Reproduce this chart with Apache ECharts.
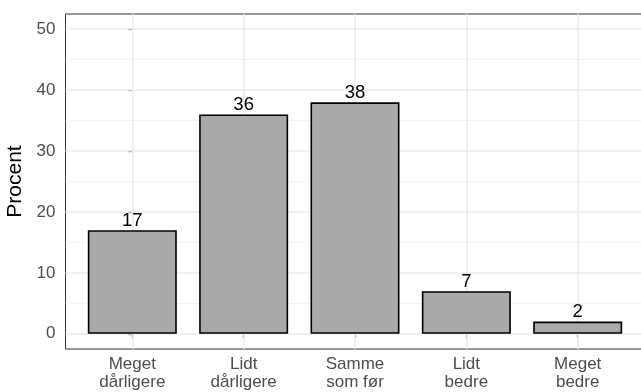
<!DOCTYPE html>
<html>
<head>
<meta charset="utf-8">
<script src="https://cdn.jsdelivr.net/npm/echarts@6/dist/echarts.min.js"></script>
<style>
  html, body { margin: 0; padding: 0; background: #fff; }
  #chart { width: 641px; height: 392px; }
</style>
</head>
<body>
<div id="chart"></div>
<script>
// data
const categories = ['Meget\ndårligere', 'Lidt\ndårligere', 'Samme\nsom før', 'Lidt\nbedre', 'Meget\nbedre']
const values = [17, 36, 38, 7, 2]
const yTicks = [0, 10, 20, 30, 40, 50]
const yMinor = [5, 15, 25, 35, 45]
const xTicks = categories.map((c, i) => i)

const font = 'Liberation Sans, Arial, sans-serif'

// gridlines drawn as marklines so they follow the ggplot panel (which is wider than the tick range)
const gridLines = []
  .concat(yMinor.map(v => ({ yAxis: v, lineStyle: { type: 'solid', color: '#f2f2f2', width: 1 } })))
  .concat(yTicks.map(v => ({ yAxis: v, lineStyle: { type: 'solid', color: '#ebebeb', width: 1.6 } })))
  .concat(xTicks.map(v => ({ xAxis: v, lineStyle: { type: 'solid', color: '#ebebeb', width: 1.6 } })))

const myChart = echarts.init(document.getElementById('chart'), null, { renderer: 'canvas' })
const options = {
  backgroundColor: '#fff',
  animation: false,
  textStyle: { fontFamily: font },
  grid: {
    show: true,
    left: 65.5,
    top: 14,
    width: 579,
    height: 335,
    outerBoundsMode: 'none',
    containLabel: false,
    borderColor: '#333333',
    borderWidth: 1,
    backgroundColor: 'transparent'
  },
  xAxis: {
    type: 'value',
    min: -0.6,
    max: 4.6,
    axisLine: { show: false },
    splitLine: { show: false },
    axisTick: { show: true, length: 4, lineStyle: { color: '#333', width: 1.2 }, customValues: xTicks },
    axisLabel: {
      customValues: xTicks,
      formatter: v => categories[Math.round(v)],
      color: '#4d4d4d',
      fontSize: 17,
      lineHeight: 18,
      margin: 6,
      fontFamily: font
    }
  },
  yAxis: {
    type: 'value',
    min: -2.5,
    max: 52.5,
    name: 'Procent',
    nameLocation: 'middle',
    nameGap: 33,
    nameTextStyle: { color: '#000', fontSize: 21, fontFamily: font },
    axisLine: { show: false },
    splitLine: { show: false },
    axisTick: { show: true, length: 4, lineStyle: { color: '#333', width: 1.2 }, customValues: yTicks },
    axisLabel: {
      customValues: yTicks,
      color: '#4d4d4d',
      fontSize: 17,
      margin: 10,
      fontFamily: font
    }
  },
  series: [
    {
      type: 'bar',
      data: values.map((v, i) => [i, v]),
      barWidth: 89,
      itemStyle: { color: '#a9a9a9', borderColor: '#000', borderWidth: 1.6 },
      label: {
        show: true,
        position: 'top',
        distance: 0,
        color: '#000',
        fontSize: 18.5,
        fontFamily: font
      },
      markLine: {
        silent: true,
        z: 1,
        symbol: 'none',
        label: { show: false },
        lineStyle: { type: 'solid' },
        animation: false,
        data: gridLines
      }
    }
  ]
}
myChart.setOption(options)
</script>
</body>
</html>
